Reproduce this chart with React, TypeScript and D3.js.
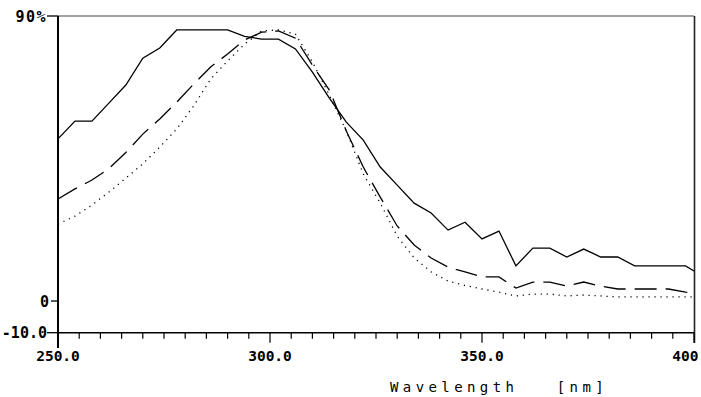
import React from "react";
import * as d3 from "d3";

const wavelengths = [250,254,258,262,266,270,274,278,282,286,290,294,298,302,306,310,314,318,322,326,330,334,338,342,346,350,354,358,362,366,370,374,378,382,386,390,394,398,400];

const solidValues = [51.2,56.8,56.8,62.5,68.2,76.7,79.9,85.6,85.6,85.6,85.6,83.6,82.7,82.7,79.6,72.3,64.1,56.5,50.8,42.3,36.6,30.9,27.8,22.4,24.9,19.6,22.1,11.1,16.7,16.7,13.9,16.4,13.9,13.9,11.1,11.1,11.1,11.1,9.5];

const dashedValues = [32.2,35.4,38.2,41.8,46.9,52.7,57.5,62.8,68.5,73.9,78.0,82.4,84.9,85.3,83.0,74.5,66.6,53.7,42.3,32.8,23.7,17.7,13.6,10.7,9.2,7.6,7.6,4.1,6.0,6.0,4.7,6.0,4.7,3.8,3.8,3.8,3.8,2.8,2.5];

const dottedValues = [24.3,26.8,30.3,34.4,38.8,43.3,48.6,54.3,61.6,70.1,75.8,81.1,85.3,85.6,84.3,75.5,65.0,53.7,40.1,30.9,20.5,13.6,9.2,6.3,4.9,3.8,2.8,1.6,2.2,2.2,1.6,1.9,1.6,1.3,1.3,1.3,1.3,1.3,1.3];

const xTickLabels = [
  { v: 250, label: "250.0" },
  { v: 300, label: "300.0" },
  { v: 350, label: "350.0" },
  { v: 400, label: "400.0" },
];
const yTickLabels = [
  { v: 90, label: "90%" },
  { v: 0, label: "0" },
  { v: -10, label: "-10.0" },
];
const minorXTicks = d3.range(250, 401, 5);
const xAxisTitle = "Wavelength   [nm]";

const W = 701, H = 397;
const left = 58, right = 694, top = 16, bottom = 332.7;

export default function App() {
  const x = d3.scaleLinear().domain([250, 400]).range([left, right]);
  const y = d3.scaleLinear().domain([-10, 90]).range([bottom, top]);
  const mk = (vals: number[]) =>
    d3.line<number>().x((_, i) => x(wavelengths[i])).y((d) => y(d))(vals) || "";

  const font = "'DejaVu Sans Mono', monospace";

  return (
    <svg width={W} height={H} style={{ position: "absolute", left: 0, top: 0, background: "#fff" }}>
      <line x1={left} x2={right} y1={top} y2={top} stroke="#444" strokeWidth={1.2} />
      <line x1={right + 0.5} x2={right + 0.5} y1={top} y2={343} stroke="#222" strokeWidth={1.6} />
      <line x1={left} x2={left} y1={top} y2={348} stroke="#000" strokeWidth={2} />
      <line x1={left} x2={right} y1={bottom} y2={bottom} stroke="#000" strokeWidth={1.6} />

      {minorXTicks.map((t) => {
        const major = t % 50 === 0;
        return (
          <line key={t} x1={x(t)} x2={x(t)} y1={bottom} y2={bottom + (major ? 10 : 6)} stroke="#000" strokeWidth={1.2} />
        );
      })}

      {yTickLabels.map((t) => (
        <g key={t.label}>
          <line x1={t.v === 0 ? 51 : 47} x2={left} y1={y(t.v)} y2={y(t.v)} stroke="#000" strokeWidth={1.3} />
          <text
            x={t.v === 0 ? 49 : 47}
            y={y(t.v) + 5.5}
            textAnchor="end"
            fontFamily={font}
            fontWeight="bold"
            fontSize={15}
            letterSpacing={t.v === 90 ? 1.5 : 0}
            fill="#000"
          >
            {t.label}
          </text>
        </g>
      ))}

      {xTickLabels.map((t) => (
        <text
          key={t.label}
          x={x(t.v)}
          y={361}
          textAnchor="middle"
          fontFamily={font}
          fontWeight="bold"
          fontSize={14.5}
          fill="#000"
        >
          {t.label}
        </text>
      ))}

      <text
        x={390}
        y={392}
        fontFamily={font}
        fontSize={14}
        letterSpacing={4.4}
        fill="#000"
        style={{ whiteSpace: "pre" }}
      >
        {xAxisTitle}
      </text>

      <path d={mk(solidValues)} fill="none" stroke="#000" strokeWidth={1.3} />
      <path d={mk(dashedValues)} fill="none" stroke="#000" strokeWidth={1.3} strokeDasharray="22,9" />
      <path d={mk(dottedValues)} fill="none" stroke="#000" strokeWidth={1.3} strokeDasharray="1.2,4.8" />
    </svg>
  );
}
